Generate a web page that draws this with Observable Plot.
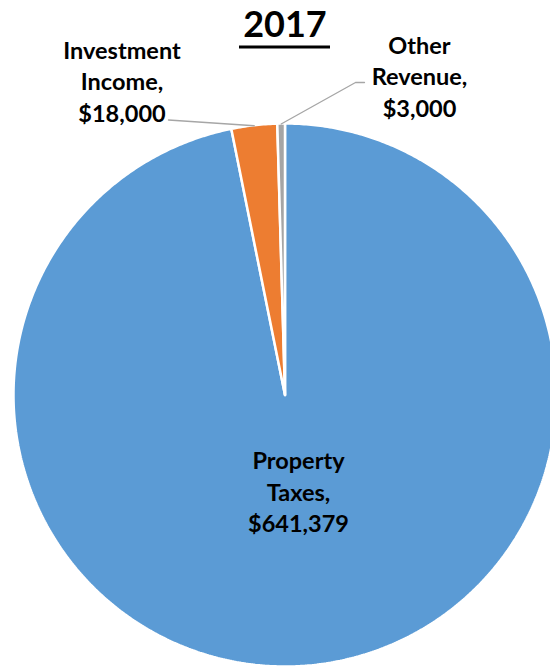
<!DOCTYPE html>
<html>
<head>
<meta charset="utf-8">
<script src="https://cdn.jsdelivr.net/npm/d3@7"></script>
<script src="https://cdn.jsdelivr.net/npm/@observablehq/plot@0.6"></script>
<style>
  html, body { margin: 0; padding: 0; background: #fff; overflow: hidden; }
  #chart svg { display: block; font-family: Lato, "Open Sans", sans-serif; }
</style>
</head>
<body>
<div id="chart"></div>
<script>
// ---- data ----
const title = "2017";
const categories = ["Property Taxes", "Investment Income", "Other Revenue"];
const values = [641379, 18000, 3000];
const colors = ["#5B9BD5", "#ED7D31", "#A5A5A5"];

// ---- layout ----
const W = 550, H = 668;
const cx = 284.5, cy = 394.5, R = 271.5;
// label anchor: x center, y center of middle line
const labelPos = [
  {x: 298, y: 490},
  {x: 121.5, y: 79.5},
  {x: 419, y: 74.5}
];
// leader line text-side points
const leaderEnds = [
  null,
  [[168, 119.5]],
  [[364, 82], [355, 82]]
];

const fmt = d3.format("$,");
const pie = d3.pie().sort(null).value(d => d.value)(
  categories.map((c, i) => ({name: c, value: values[i], color: colors[i]}))
);

const pt = (a, r) => [cx + r * Math.sin(a), cy - r * Math.cos(a)];

// slice polygons
const poly = [];
pie.forEach(s => {
  const n = Math.max(2, Math.ceil((s.endAngle - s.startAngle) / (Math.PI / 360)));
  const pts = [[cx, cy]];
  for (let k = 0; k <= n; k++) {
    const a = s.startAngle + (s.endAngle - s.startAngle) * k / n;
    pts.push(pt(a, R));
  }
  pts.push([cx, cy]);
  pts.forEach(p => poly.push({name: s.data.name, color: s.data.color, x: p[0], y: p[1]}));
});

// labels
const labels = pie.map((s, i) => {
  const words = s.data.name.split(" ");
  return {
    text: words.join("\n") + ",\n" + fmt(s.data.value),
    x: labelPos[i].x,
    y: labelPos[i].y
  };
});

// leader lines
const leaders = [];
pie.forEach((s, i) => {
  if (!leaderEnds[i]) return;
  const mid = (s.startAngle + s.endAngle) / 2;
  const p0 = pt(mid, R - 0.5);
  const pts = [p0, ...leaderEnds[i].slice().reverse()];
  pts.forEach(p => leaders.push({name: s.data.name, x: p[0], y: p[1]}));
});

const FS = 23.5;
const chart = Plot.plot({
  width: W, height: H,
  margin: 0,
  x: {domain: [0, W], axis: null},
  y: {domain: [0, H], reverse: true, axis: null},
  style: {background: "white"},
  marks: [
    Plot.line(poly, {x: "x", y: "y", z: "name", fill: "color", stroke: "white", strokeWidth: 2.5, strokeLinejoin: "miter"}),
    Plot.line(leaders, {x: "x", y: "y", z: "name", stroke: "#A6A6A6", strokeWidth: 1.3}),
    Plot.text(labels, {x: "x", y: "y", text: "text", fontSize: FS, fontWeight: "bold", fill: "black",
      lineAnchor: "middle", lineHeight: 1.34}),
    Plot.text([title], {x: () => cx, y: () => 24.5, text: d => d, fontSize: 36, fontWeight: "bold",
      lineAnchor: "middle", fill: "black"}),
    Plot.ruleY([46.5], {x1: 239, x2: 330, stroke: "black", strokeWidth: 3})
  ]
});
document.getElementById("chart").append(chart);
</script>
</body>
</html>
